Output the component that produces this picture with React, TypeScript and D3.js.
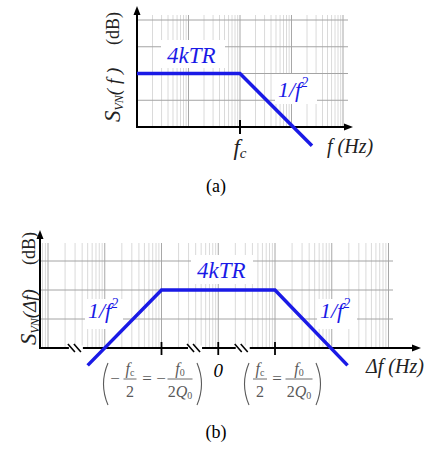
import React from 'react';
import * as d3 from 'd3';

// (a) single-sided thermal noise spectrum
const freqA = [1, 100, 2500];
const dbA = [40, 40, -14];
const gridDbA = [20, 40, 60, 80];
const cornerA = 100;

// (b) double-sided spectrum around the carrier
const freqB = [5, 100, 10000, 190000];
const dbB = [-12, 40, 40, -12];
const gridDbB = [20, 40, 60];
const tickFreqB = [100, 1000, 10000];
const breakFreqB = [3.1, 390, 2700];

const BLUE = '#1a1ae6';
const GRAY = '#5a5a5a';
const S = { fontFamily: '"Liberation Serif"' };

type Pt = [number, number];

function LogGrid({ x, y, x0, x1, yTop, yBottom, dbs }: any) {
  const gx = x.copy().domain([x.invert(x0), x.invert(x1)]);
  const ticks: number[] = gx.ticks();
  const isMajor = (v: number) => Math.abs(Math.log10(v) - Math.round(Math.log10(v))) < 1e-6;
  return (
    <g>
      {ticks.map((v, i) => (
        <line key={'v' + i} x1={x(v)} x2={x(v)} y1={yTop} y2={yBottom}
          stroke={isMajor(v) ? '#a8a8a8' : '#dadada'} strokeWidth={1} />
      ))}
      {dbs.map((d: number) => (
        <line key={'h' + d} x1={x0} x2={x1} y1={y(d)} y2={y(d)} stroke="#a4a4a4" strokeWidth={1} />
      ))}
    </g>
  );
}

function Axes({ ox, oy, xEnd, yEnd }: any) {
  return (
    <g>
      <line x1={ox} y1={oy} x2={xEnd - 6} y2={oy} stroke="#000" strokeWidth={2} />
      <line x1={ox} y1={oy + 1} x2={ox} y2={yEnd + 6} stroke="#000" strokeWidth={2} />
      <path d={`M${xEnd},${oy} L${xEnd - 9},${oy - 3.5} L${xEnd - 9},${oy + 3.5} Z`} fill="#000" />
      <path d={`M${ox},${yEnd} L${ox - 3.5},${yEnd + 9} L${ox + 3.5},${yEnd + 9} Z`} fill="#000" />
    </g>
  );
}

function Paren({ x, y0, y1, left }: any) {
  const m = (y0 + y1) / 2;
  const d = left
    ? `M${x + 6},${y0} Q${x - 3},${m} ${x + 6},${y1}`
    : `M${x},${y0} Q${x + 9},${m} ${x},${y1}`;
  return <path d={d} fill="none" stroke={GRAY} strokeWidth={1.1} />;
}

function Frac({ cx, w, num, numSub, den, denSub }: any) {
  return (
    <g fill={GRAY}>
      <text x={cx} y={374} textAnchor="middle" fontSize={16} fontStyle="italic" style={S}>
        {num}<tspan fontSize={10} dy={2} fontStyle="normal">{numSub}</tspan>
      </text>
      <line x1={cx - w / 2} x2={cx + w / 2} y1={379} y2={379} stroke={GRAY} strokeWidth={0.9} />
      <text x={cx} y={397} textAnchor="middle" fontSize={16} style={S}>
        {den}
        {denSub && <tspan fontStyle="italic">Q</tspan>}
        {denSub && <tspan fontSize={10} dy={2}>{denSub}</tspan>}
      </text>
    </g>
  );
}

function Label({ x, y, w, h, children }: any) {
  return (
    <g>
      <rect x={x} y={y} width={w} height={h} fill="#fff" />
      {children}
    </g>
  );
}

export default function App() {
  // panel (a)
  const xA = d3.scaleLog().domain([1, 10000]).range([137, 343]);
  const yA = d3.scaleLinear().domain([0, 80]).range([127, 20]);
  const ptsA: Pt[] = freqA.map((f, i) => [xA(f), yA(dbA[i])]);
  const line = d3.line();

  // panel (b)
  const xB = d3.scaleLog().domain([1, 1e6]).range([48, 388.5]);
  const yB = d3.scaleLinear().domain([0, 60]).range([348, 261]);
  const ptsB: Pt[] = freqB.map((f, i) => [xB(f), yB(dbB[i])]);

  return (
    <svg width={430} height={449} viewBox="0 0 430 449"
      style={{ position: 'absolute', left: 0, top: 0, display: 'block' }}>
      <rect x={0} y={0} width={430} height={449} fill="#fff" />
      {/* ---------- (a) ---------- */}
      <LogGrid x={xA} y={yA} x0={137} x1={348} yTop={15} yBottom={127} dbs={gridDbA} />
      <Label x={161} y={40} w={64} h={28}>
        <text x={167} y={63} fontSize={23} fontStyle="italic" fill={BLUE} style={S}>4kTR</text>
      </Label>
      <Label x={275} y={74} w={42} h={30}>
        <text x={278} y={97} fontSize={22} fontStyle="italic" fill={BLUE} style={S}>
          1/f<tspan fontSize={14} dy={-10}>2</tspan>
        </text>
      </Label>
      <Axes ox={137} oy={127} xEnd={353} yEnd={6} />
      <line x1={xA(cornerA)} x2={xA(cornerA)} y1={120} y2={134} stroke="#000" strokeWidth={2} />
      <path d={line(ptsA) || ''} fill="none" stroke={BLUE} strokeWidth={3.5} />
      <g fill="#222">
        <text transform="translate(120,122) rotate(-90)" fontSize={19} style={S}>
          <tspan fontSize={23} fontStyle="italic">S</tspan>
          <tspan fontSize={12} fontStyle="italic" dy={3}>VN</tspan>
          <tspan fontStyle="italic" dy={-3}>( f )</tspan>
        </text>
        <text transform="translate(119,45) rotate(-90)" fontSize={18} style={S}>(dB)</text>
        <text x={xA(cornerA)} y={155} textAnchor="middle" fontSize={23} fontStyle="italic" style={S}>
          f<tspan fontSize={15} dy={3}>c</tspan>
        </text>
        <text x={327} y={153} fontSize={20} fontStyle="italic" style={S}>f (Hz)</text>
        <text x={216} y={192} textAnchor="middle" fontSize={18} fill="#000" style={S}>(a)</text>
      </g>

      {/* ---------- (b) ---------- */}
      <LogGrid x={xB} y={yB} x0={40} x1={393} yTop={243} yBottom={348} dbs={gridDbB} />
      <Label x={191} y={255} w={62} h={29}>
        <text x={197} y={278} fontSize={23} fontStyle="italic" fill={BLUE} style={S}>4kTR</text>
      </Label>
      <Label x={85} y={299} w={38} h={30}>
        <text x={88} y={318} fontSize={22} fontStyle="italic" fill={BLUE} style={S}>
          1/f<tspan fontSize={14} dy={-10}>2</tspan>
        </text>
      </Label>
      <Label x={317} y={299} w={40} h={30}>
        <text x={320} y={318} fontSize={22} fontStyle="italic" fill={BLUE} style={S}>
          1/f<tspan fontSize={14} dy={-10}>2</tspan>
        </text>
      </Label>
      <Axes ox={40} oy={348} xEnd={421} yEnd={230} />
      {tickFreqB.map(f => (
        <line key={f} x1={xB(f)} x2={xB(f)} y1={342} y2={355} stroke="#000" strokeWidth={1.8} />
      ))}
      {breakFreqB.map(f => (
        <g key={f} stroke="#000" strokeWidth={1.6}>
          <rect x={xB(f) - 7} y={345.5} width={14} height={5} fill="#fff" stroke="none" />
          <line x1={xB(f) - 8} y1={344} x2={xB(f) - 1} y2={352} />
          <line x1={xB(f) - 2} y1={344} x2={xB(f) + 5} y2={352} />
        </g>
      ))}
      <path d={line(ptsB) || ''} fill="none" stroke={BLUE} strokeWidth={3.5} />
      <g fill="#222">
        <text transform="translate(36,345) rotate(-90)" fontSize={19} style={S}>
          <tspan fontSize={23} fontStyle="italic">S</tspan>
          <tspan fontSize={12} fontStyle="italic" dy={3}>VN</tspan>
          <tspan fontStyle="italic" dy={-3}>(Δf)</tspan>
        </text>
        <text transform="translate(35,265) rotate(-90)" fontSize={18} style={S}>(dB)</text>
        <text x={xB(1000)} y={377} textAnchor="middle" fontSize={19} fontStyle="italic" fill="#000" style={S}>0</text>
        <text x={366} y={373} fontSize={20} fontStyle="italic" style={S}>Δf (Hz)</text>
        <text x={216} y={438} textAnchor="middle" fontSize={18} fill="#000" style={S}>(b)</text>
      </g>
      {/* tick labels */}
      <g fill={GRAY}>
        <Paren x={102} y0={363} y1={405} left />
        <text x={115} y={384} textAnchor="middle" fontSize={17} style={S}>−</text>
        <Frac cx={130} w={13} num="f" numSub="c" den="2" />
        <text x={147} y={384} textAnchor="middle" fontSize={17} style={S}>=</text>
        <text x={161} y={384} textAnchor="middle" fontSize={17} style={S}>−</text>
        <Frac cx={180} w={25} num="f" numSub="0" den="2" denSub="0" />
        <Paren x={197} y0={363} y1={405} />

        <Paren x={243} y0={363} y1={405} left />
        <Frac cx={260} w={14} num="f" numSub="c" den="2" />
        <text x={277} y={384} textAnchor="middle" fontSize={17} style={S}>=</text>
        <Frac cx={299} w={27} num="f" numSub="0" den="2" denSub="0" />
        <Paren x={316} y0={363} y1={405} />
      </g>
    </svg>
  );
}
